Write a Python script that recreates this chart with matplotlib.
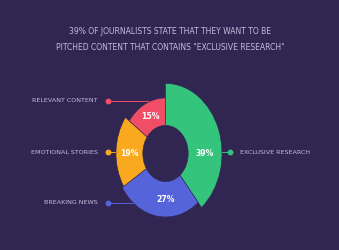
import matplotlib
matplotlib.use('Agg')
import matplotlib.pyplot as plt
import numpy as np
from matplotlib.patches import Wedge
from matplotlib.transforms import Affine2D

# data
categories = ['EXCLUSIVE RESEARCH', 'BREAKING NEWS', 'EMOTIONAL STORIES', 'RELEVANT CONTENT']
shares = [39, 27, 19, 15]
colors = ['#35c47c', '#5564da', '#f8a91e', '#f04e66']
title_lines = ['39% OF JOURNALISTS STATE THAT THEY WANT TO BE',
               'PITCHED CONTENT THAT CONTAINS "EXCLUSIVE RESEARCH"']

BG = '#312552'
TXT = '#c3bcdc'

# layout (pixel units, y up)
W, H = 339, 250
cx, cy = 165.5, 96.5
yscale = 1.24                          # picture is stretched vertically
inner = 22.7
outer = [56.5, 51.2, 49.5, 44.8]       # variable radius per slice
label_ang = [0, -90, 180, None]        # None -> mid angle
side_y = {'EXCLUSIVE RESEARCH': 98, 'BREAKING NEWS': 47,
          'EMOTIONAL STORIES': 98, 'RELEVANT CONTENT': 149}

fig = plt.figure(figsize=(W / 100, H / 100), dpi=100)
fig.patch.set_facecolor(BG)
ax = fig.add_axes([0, 0, 1, 1])
ax.set_xlim(0, W)
ax.set_ylim(0, H)
ax.axis('off')
ax.set_facecolor(BG)

tr = Affine2D().scale(1, yscale).translate(cx, cy) + ax.transData

# slices go clockwise from 12 o'clock
start = 90.0
for i, (cat, val, col) in enumerate(zip(categories, shares, colors)):
    sweep = 360.0 * val / sum(shares)
    t1, t2 = start - sweep, start
    r = outer[i]
    ax.add_patch(Wedge((0, 0), r, t1, t2, width=r - inner, facecolor=col,
                       edgecolor=BG, linewidth=0.4, transform=tr, zorder=3))

    a = label_ang[i] if label_ang[i] is not None else (t1 + t2) / 2
    rm = (r + inner) / 2
    lx = cx + rm * np.cos(np.radians(a))
    ly = cy + rm * np.sin(np.radians(a)) * yscale
    ax.text(lx, ly, f'{val}%', color='white', fontsize=5.6, fontweight='bold',
            ha='center', va='center', zorder=4)

    # leader line + dot + side label
    y = side_y[cat]
    dy = (y - cy) / yscale
    dx = np.sqrt(max(r ** 2 - dy ** 2, 0))
    if cat == 'EXCLUSIVE RESEARCH':
        x_edge, x_dot = cx + dx, 230
        ax.text(240, y, cat, color=TXT, fontsize=4.6, ha='left', va='center')
    else:
        x_edge, x_dot = cx - dx, 108
        ax.text(98, y, cat, color=TXT, fontsize=4.6, ha='right', va='center')
    ax.plot([x_dot, x_edge], [y, y], color=col, lw=0.7, zorder=2)
    ax.plot(x_dot, y, 'o', ms=3.2, color=col, mec=col, zorder=2)

    start = t1

ax.text(170, 218, title_lines[0], color=TXT, fontsize=5.5, ha='center', va='center')
ax.text(170, 203, title_lines[1], color=TXT, fontsize=5.5, ha='center', va='center')

fig.savefig('out.png', dpi=100, facecolor=BG)
